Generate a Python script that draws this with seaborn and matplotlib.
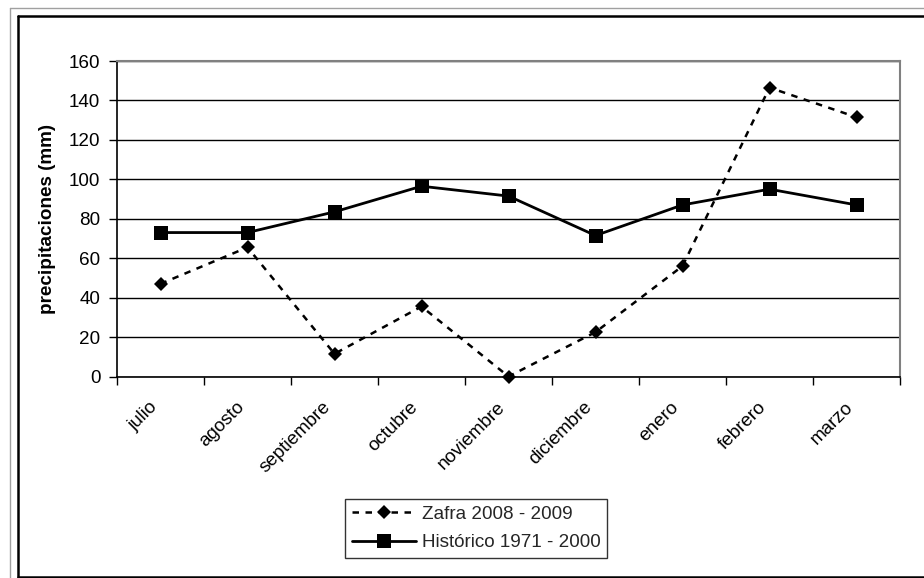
import numpy as np
import pandas as pd
import matplotlib
matplotlib.use("Agg")
import matplotlib.pyplot as plt
import seaborn as sns
from matplotlib.lines import Line2D
from matplotlib.ticker import FixedLocator, MultipleLocator

# data
meses = ["julio", "agosto", "septiembre", "octubre", "noviembre",
         "diciembre", "enero", "febrero", "marzo"]
zafra = [47, 65.5, 11.5, 35.5, 0, 22.5, 56, 146.5, 131.5]
historico = [73, 73, 83.5, 96.5, 91.5, 71.5, 87, 95, 87]
serie_zafra = "Zafra 2008 - 2009"
serie_hist = "Histórico 1971 - 2000"

sns.set_theme(style="white")
plt.rcParams["font.family"] = ["Liberation Sans", "DejaVu Sans"]
FS = 13.6

fig = plt.figure(figsize=(9.24, 5.78), dpi=100)
W, H = 924, 578
ax = fig.add_axes([117 / W, 1 - 376.5 / H, (900 - 117) / W, (376.5 - 61) / H])

pos = np.arange(len(meses))
df = pd.DataFrame({"pos": pos, "zafra": zafra, "historico": historico})

sns.lineplot(data=df, x="pos", y="zafra", ax=ax, color="black", marker="D",
             markersize=6.8, linewidth=1.8, markeredgewidth=0, label=serie_zafra)
ax.lines[-1].set_dashes((2.6, 2.6))
sns.lineplot(data=df, x="pos", y="historico", ax=ax, color="black", marker="s",
             markersize=10.5, linewidth=2.0, markeredgewidth=0, label=serie_hist)
for ln in ax.lines:
    ln.set_clip_on(False)

ax.set_xlim(-0.5, len(meses) - 0.5)
ax.set_ylim(0, 160)
ax.yaxis.set_major_locator(MultipleLocator(20))
ax.set_xticks(pos)
ax.set_xticklabels(meses, rotation=45, ha="right", va="top",
                   rotation_mode="default", fontsize=FS)
ax.xaxis.set_minor_locator(FixedLocator(np.arange(len(meses) + 1) - 0.5))
ax.tick_params(axis="x", which="major", length=0, pad=16)
ax.tick_params(axis="x", which="minor", length=6, width=1, color="black",
               direction="out", bottom=True)
ax.tick_params(axis="y", length=6, width=1, color="black", direction="out",
               left=True, labelsize=FS, pad=6)
for t in ax.get_yticklabels() + ax.get_xticklabels():
    t.set_color("black")

ax.grid(axis="y", color="black", linewidth=1.0)
ax.set_axisbelow(True)
ax.set_xlabel("")
ax.set_ylabel("precipitaciones (mm)", fontsize=FS, fontweight="bold",
              color="black", labelpad=9)

for side in ["left", "bottom"]:
    ax.spines[side].set_color("black")
    ax.spines[side].set_linewidth(1.2)
for side in ["top", "right"]:
    ax.spines[side].set_color("#808080")
    ax.spines[side].set_linewidth(1.5)

ax.get_legend().remove()
handles, labels = ax.get_legend_handles_labels()
leg = fig.legend(handles, labels, loc="upper left",
                 bbox_to_anchor=(345 / W, 1 - 499 / H), fontsize=FS,
                 frameon=True, fancybox=False, edgecolor="black",
                 handlelength=3.4, handletextpad=0.3, borderpad=0.35,
                 labelspacing=0.6, borderaxespad=0)
leg.get_frame().set_linewidth(1.0)

# chart frame like the spreadsheet export
fig.add_artist(Line2D([10 / W, 10 / W], [0, 1 - 8 / H], color="#a0a0a0", lw=1.0))
fig.add_artist(Line2D([10 / W, 1], [1 - 8 / H, 1 - 8 / H], color="#a0a0a0", lw=1.0))
fig.add_artist(Line2D([18 / W, 18 / W], [1 - 576.5 / H, 1 - 15.5 / H], color="black", lw=1.8))
fig.add_artist(Line2D([18 / W, 1], [1 - 15.5 / H, 1 - 15.5 / H], color="black", lw=1.8))
fig.add_artist(Line2D([18 / W, 1], [1 - 576.5 / H, 1 - 576.5 / H], color="black", lw=1.8))

fig.savefig("out.png", dpi=100)
